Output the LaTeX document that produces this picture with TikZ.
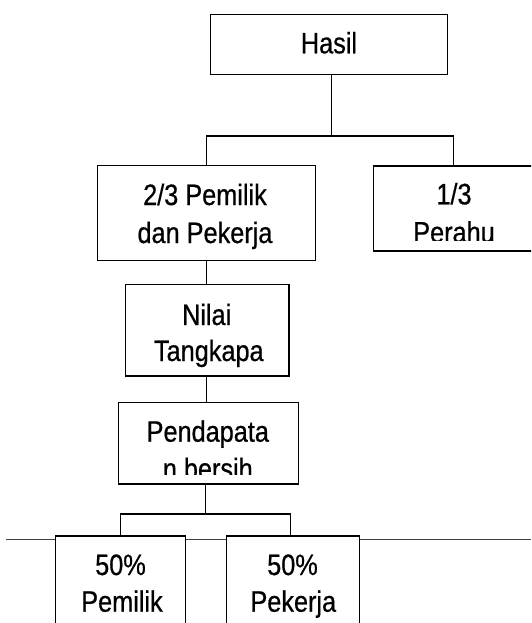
\documentclass[tikz,border=0pt]{standalone}
\usepackage{fontspec}
\setmainfont{Liberation Sans}[FakeStretch=0.857,FakeBold=0.6]
\begin{document}
\begin{tikzpicture}[x=1pt,y=-1pt,
  box/.style={draw=black, line width=1.1pt, fill=white, inner sep=0pt},
  txt/.style={anchor=base, inner sep=0pt, font=\fontsize{29.5}{36}\selectfont},
  conn/.style={draw=black, line width=1.1pt},
  rule/.style={draw=black!75, line width=0.8pt}]
\useasboundingbox (0,0) rectangle (531,623);
\clip (0,0) rectangle (531,623);
% long horizontal rule behind the bottom boxes
\coordinate (ruleL) at (6,539.3);
\coordinate (ruleR) at (531,539.3);
\draw[rule] (ruleL) -- (ruleR);
% boxes
\node[box, minimum width=237.4pt, minimum height=60pt] (hasil) at (329,44.3) {};
\node[box, minimum width=217.7pt, minimum height=95.2pt] (left) at (206.2,213.1) {};
\node[box, minimum width=159.6pt, minimum height=85pt] (right) at (453.5,208.5) {};
\node[box, minimum width=163.3pt, minimum height=91.3pt] (nilai) at (207.3,330.3) {};
\node[box, minimum width=180pt, minimum height=81.3pt] (pend) at (208.3,443.3) {};
\node[box, minimum width=129.6pt, minimum height=114pt] (pa) at (120.5,593) {};
\node[box, minimum width=132.6pt, minimum height=114pt] (pb) at (293,593) {};
% texts
\node[txt] (tHasil) at (329,53.3) {Hasil};
\node[txt] (tLeftA) at (205,205) {2/3 Pemilik};
\node[txt] (tLeftB) at (205,243) {dan Pekerja};
\node[txt] (tRightA) at (454,204.3) {1/3};
\begin{scope}
  \clip (375,215) rectangle (531,240);
  \node[txt] (tRightB) at (454,242.5) {Perahu};
\end{scope}
\node[txt] (tNilaiA) at (206.7,325) {Nilai};
\node[txt] (tNilaiB) at (208.8,361) {Tangkapa};
\node[txt] (tPendA) at (207.8,441.7) {Pendapata};
\begin{scope}
  \clip (120,450) rectangle (297,474);
  \node[txt] (tPendB) at (207.8,479) {n bersih};
\end{scope}
\node[txt] (tPaA) at (120.5,575) {50\%};
\node[txt] (tPaB) at (122,611.7) {Pemilik};
\node[txt] (tPbA) at (292.5,575) {50\%};
\node[txt] (tPbB) at (293.3,611.7) {Pekerja};
% connectors
\coordinate (forkA) at (331.5,136);
\draw[conn] (hasil.south -| forkA) -- (forkA);
\draw[conn] (left.north) |- (forkA) -| (right.north);
\draw[conn] (left.south) -- (left.south |- nilai.north);
\draw[conn] (left.south |- nilai.south) -- (left.south |- pend.north);
\coordinate (forkB) at (205.7,514);
\draw[conn] (pend.south -| forkB) -- (forkB);
\draw[conn] (pa.north) |- (forkB) -| ([xshift=-2.3pt]pb.north);
\end{tikzpicture}
\end{document}
